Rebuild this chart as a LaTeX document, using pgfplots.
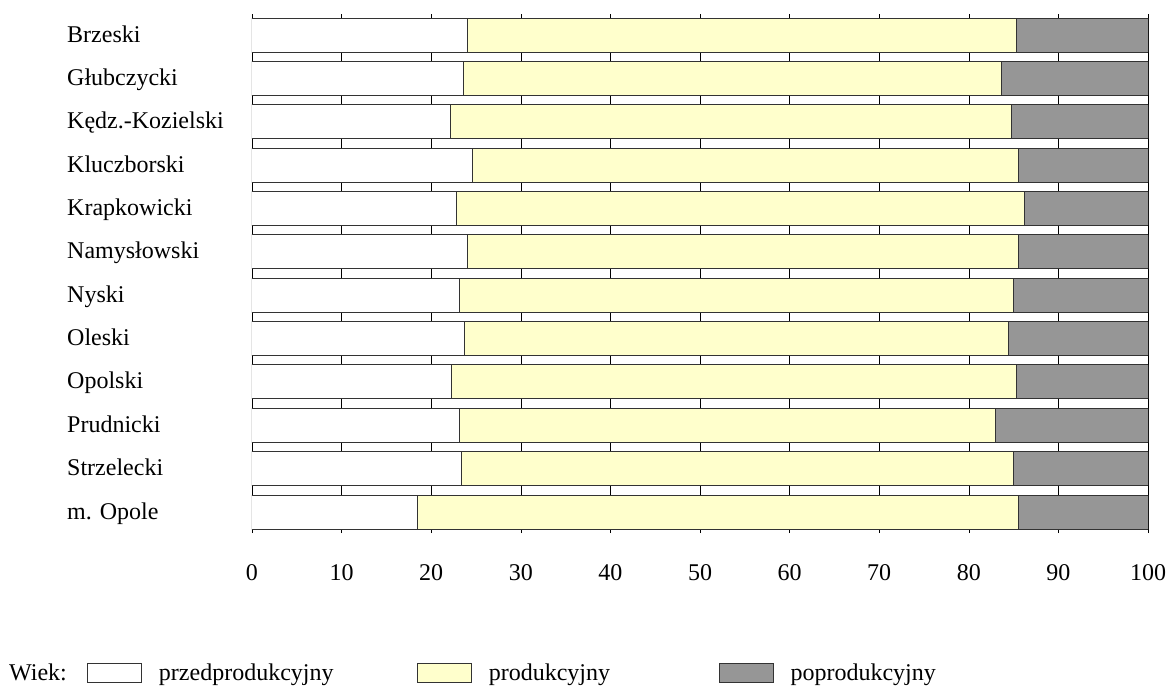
\documentclass[border=0pt]{standalone}
\usepackage{fontspec}
\setmainfont{Liberation Serif}
\usepackage{pgfplots}
\usepackage{pgfplotstable}
\pgfplotsset{compat=1.18}

\definecolor{prodyellow}{HTML}{FFFFCC}
\definecolor{postgray}{HTML}{969696}
\definecolor{edge}{HTML}{333333}

% udzial grup wieku w % ludnosci powiatu
\pgfplotstableread{
idx white yellow gray
0  24.1 61.2 14.7
1  23.6 60.1 16.3
2  22.1 62.7 15.2
3  24.6 60.9 14.5
4  22.8 63.4 13.8
5  24.1 61.4 14.5
6  23.2 61.8 15.0
7  23.7 60.7 15.6
8  22.3 63.0 14.7
9  23.2 59.8 17.0
10 23.4 61.6 15.0
11 18.5 67.0 14.5
}\wiek

\begin{document}
\begin{tikzpicture}[x=1pt,y=1pt]
\useasboundingbox (0,0) rectangle (1168,-689);
\begin{axis}[
    at={(252pt,-529pt)}, anchor=south west,
    scale only axis, width=896pt, height=511pt,
    xbar stacked, bar width=34pt,
    xmin=0, xmax=100,
    ymin=-0.392, ymax=11.392, y dir=reverse,
    xtick distance=10,
    ytick={0,...,11},
    yticklabels={Brzeski,Głubczycki,Kędz.-Kozielski,Kluczborski,Krapkowicki,Namysłowski,Nyski,Oleski,Opolski,Prudnicki,Strzelecki,m. Opole},
    tick align=outside,
    major tick length=4pt,
    ytick style={draw=none},
    xtick style={black, line width=0.6pt},
    xmajorgrids,
    major grid style={black, line width=0.6pt},
    axis line style={black, line width=0.8pt},
    tick label style={font=\fontsize{24}{28}\selectfont},
    /pgf/number format/assume math mode=true,
    xticklabel style={yshift=-28pt},
    yticklabel style={anchor=base west, inner sep=0pt, xshift=-181pt, yshift=-7pt},
    legend columns=4,
    legend style={draw=none, fill=none, inner sep=0pt,
        at={(-0.2902,-0.2818)}, anchor=west,
        font=\fontsize{24}{28}\selectfont,
        nodes={inner sep=0pt},
        /tikz/every odd column/.append style={column sep=17pt},
        /tikz/every even column/.append style={column sep=0pt}},
]
\addlegendimage{empty legend}
\addlegendentry{\makebox[78pt][l]{Wiek:}}
\addplot[fill=white, draw=edge, line width=1pt,
    legend image code/.code={\draw[fill=white, draw=edge, line width=0.8pt] (0pt,-9.5pt) rectangle (54pt,9.5pt);}]
    table[x=white, y=idx] {\wiek};
\addlegendentry{\makebox[258pt][l]{przedprodukcyjny}}
\addplot[fill=prodyellow, draw=edge, line width=1pt,
    legend image code/.code={\draw[fill=prodyellow, draw=edge, line width=0.8pt] (0pt,-9.5pt) rectangle (54pt,9.5pt);}]
    table[x=yellow, y=idx] {\wiek};
\addlegendentry{\makebox[230pt][l]{produkcyjny}}
\addplot[fill=postgray, draw=edge, line width=1pt,
    legend image code/.code={\draw[fill=postgray, draw=edge, line width=0.8pt] (0pt,-9.5pt) rectangle (54pt,9.5pt);}]
    table[x=gray, y=idx] {\wiek};
\addlegendentry{poprodukcyjny}
\end{axis}
\end{tikzpicture}
\end{document}
